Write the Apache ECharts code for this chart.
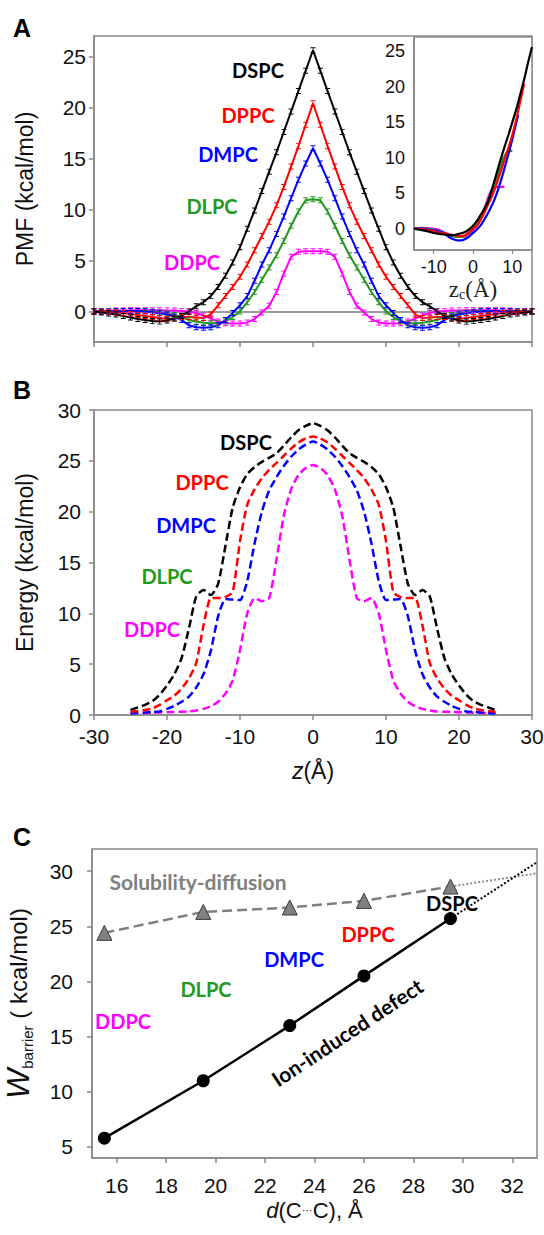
<!DOCTYPE html>
<html><head><meta charset="utf-8">
<script src="https://cdn.jsdelivr.net/npm/echarts@6/dist/echarts.min.js"></script>
<style>html,body{margin:0;padding:0;background:#fff}#c{width:544px;height:1235px}</style>
</head><body><div id="c"></div>
<script>
// ---------- DATA ----------
// Panel A: PMF (kcal/mol) vs z (Å)
const zPMF = [-30,-29,-28,-27,-26,-25,-24,-23,-22,-21,-20,-19,-18,-17,-16,-15,-14,-13,-12,-11,-10,-9,-8,-7,-6,-5,-4,-3,-2,-1,0,1,2,3,4,5,6,7,8,9,10,11,12,13,14,15,16,17,18,19,20,21,22,23,24,25,26,27,28,29,30];
const pmfDSPC = [0,-0.1,-0.2,-0.3,-0.45,-0.6,-0.75,-0.85,-0.95,-1.0,-0.9,-0.7,-0.45,0.0,0.5,0.9,1.5,2.4,3.5,4.8,6.3,8.1,9.9,11.8,13.7,15.6,17.6,19.6,21.6,23.6,25.6,23.6,21.6,19.6,17.6,15.6,13.7,11.8,9.9,8.1,6.3,4.8,3.5,2.4,1.5,0.9,0.5,0.0,-0.45,-0.7,-0.9,-1.0,-0.95,-0.85,-0.75,-0.6,-0.45,-0.3,-0.2,-0.1,0];
const pmfDPPC = [0,0,-0.05,-0.1,-0.15,-0.25,-0.35,-0.45,-0.55,-0.65,-0.75,-0.7,-0.55,-0.55,-0.6,-0.65,-0.3,0.6,1.5,2.4,3.4,4.6,6.0,7.4,8.8,10.4,12.2,14.2,16.2,18.3,20.4,18.3,16.2,14.2,12.2,10.4,8.8,7.4,6.0,4.6,3.4,2.4,1.5,0.6,-0.3,-0.65,-0.6,-0.55,-0.55,-0.7,-0.75,-0.65,-0.55,-0.45,-0.35,-0.25,-0.15,-0.1,-0.05,0,0];
const pmfDMPC = [0,0,0,0.02,0.03,0.05,0.03,0,-0.08,-0.18,-0.3,-0.5,-0.85,-1.35,-1.55,-1.6,-1.55,-1.35,-0.85,-0.15,0.6,1.5,3.0,4.6,6.0,7.6,9.3,11.1,12.9,14.5,16.0,14.5,12.9,11.1,9.3,7.6,6.0,4.6,3.0,1.5,0.6,-0.15,-0.85,-1.35,-1.55,-1.6,-1.55,-1.35,-0.85,-0.5,-0.3,-0.18,-0.08,0,0.03,0.05,0.03,0.02,0,0,0];
const pmfDLPC = [0,0,0,0.02,0.03,0.05,0.05,0.03,-0.03,-0.1,-0.2,-0.35,-0.55,-0.85,-1.0,-1.12,-1.15,-1.15,-1.0,-0.55,0.0,0.9,1.9,3.1,4.3,5.5,6.9,8.4,9.8,10.9,11.0,10.9,9.8,8.4,6.9,5.5,4.3,3.1,1.9,0.9,0.0,-0.55,-1.0,-1.15,-1.15,-1.12,-1.0,-0.85,-0.55,-0.35,-0.2,-0.1,-0.03,0.03,0.05,0.05,0.03,0.02,0,0,0];
const pmfDDPC = [0,0.02,0.05,0.08,0.1,0.12,0.12,0.12,0.12,0.12,0.1,0.08,0.05,0.0,-0.15,-0.4,-0.7,-1.0,-1.15,-1.18,-1.18,-1.08,-0.75,-0.1,0.55,1.9,3.7,5.35,5.85,5.9,5.9,5.9,5.85,5.35,3.7,1.9,0.55,-0.1,-0.75,-1.08,-1.18,-1.18,-1.15,-1.0,-0.7,-0.4,-0.15,0.0,0.05,0.08,0.1,0.12,0.12,0.12,0.12,0.12,0.1,0.08,0.05,0.02,0];

// Panel A inset: PMF vs z_c (Å), [z_c, PMF]
const insetDSPC = [[-15,0],[-14,-0.1],[-13,-0.2],[-12,-0.3],[-11,-0.45],[-10,-0.6],[-9,-0.7],[-8,-0.78],[-7,-0.85],[-6,-0.9],[-5,-0.9],[-4,-0.8],[-3,-0.65],[-2,-0.45],[-1,-0.1],[0,0.4],[1,1.1],[2,2.0],[3,2.9],[4,4.1],[5,5.9],[6,7.8],[7,9.7],[8,11.5],[9,13.2],[10,15.0],[11,16.8],[12,18.9],[13,21.0],[14,23.4],[15,25.6]];
const insetDPPC = [[-15,0],[-14,0],[-13,-0.05],[-12,-0.15],[-11,-0.25],[-10,-0.35],[-9,-0.5],[-8,-0.6],[-7,-0.7],[-6,-0.8],[-5,-0.9],[-4,-1.0],[-3,-1.05],[-2,-0.9],[-1,-0.5],[0,0.0],[1,0.4],[2,1.3],[3,2.4],[4,3.6],[5,4.8],[6,6.3],[7,8.0],[8,9.7],[9,11.4],[10,13.2],[11,15.4],[12,17.9],[13,20.4]];
const insetDMPC = [[-15,0],[-14,0.05],[-13,0.02],[-12,-0.05],[-11,-0.15],[-10,-0.25],[-9,-0.35],[-8,-0.5],[-7,-0.8],[-6,-1.2],[-5,-1.5],[-4,-1.65],[-3,-1.65],[-2,-1.45],[-1,-1.1],[0,-0.6],[1,-0.1],[2,0.5],[3,1.4],[4,2.4],[5,3.5],[6,4.9],[7,6.6],[8,8.5],[9,10.5],[10,12.6],[11,14.9],[11.5,16.0]];
const insetDLPC = [[-15,0],[-14,0.02],[-13,0.03],[-12,0],[-11,-0.05],[-10,-0.15],[-9,-0.3],[-8,-0.45],[-7,-0.7],[-6,-0.9],[-5,-1.05],[-4,-1.15],[-3,-1.15],[-2,-1.0],[-1,-0.6],[0,-0.05],[1,0.7],[2,1.7],[3,2.9],[4,4.2],[5,5.6],[6,7.1],[7,8.7],[8,10.2],[9,10.9],[10,10.95]];
const insetDDPC = [[-15,0],[-14,0.1],[-13,0.12],[-12,0.1],[-11,0.05],[-10,0],[-9,-0.1],[-8,-0.35],[-7,-0.6],[-6,-0.85],[-5,-1.05],[-4,-1.15],[-3,-1.15],[-2,-1.1],[-1,-0.8],[0,-0.2],[1,0.5],[2,1.6],[3,3.0],[4,4.6],[5,5.7],[6,5.85],[7,5.9],[8,5.9]];

// Panel B: Energy (kcal/mol) vs z (Å)
const zEnergy = [-25,-24,-23,-22,-21,-20,-19,-18,-17,-16,-15,-14,-13,-12,-11,-10,-9,-8,-7,-6,-5,-4,-3,-2,-1,0,1,2,3,4,5,6,7,8,9,10,11,12,13,14,15,16,17,18,19,20,21,22,23,24,25];
const energyDSPC = [0.5,0.75,1.0,1.35,2.0,2.9,4.0,5.6,8.5,11.65,12.3,11.8,12.9,16.6,20.4,22.4,23.7,24.4,24.9,25.3,25.75,26.5,27.3,28.0,28.45,28.7,28.45,28.0,27.3,26.5,25.75,25.3,24.9,24.4,23.7,22.4,20.4,16.6,12.9,11.8,12.3,11.65,8.5,5.6,4.0,2.9,2.0,1.35,1.0,0.75,0.5];
const energyDPPC = [0.33,0.4,0.5,0.65,1.0,1.45,1.9,2.6,3.6,5.1,8.8,11.5,11.5,11.6,12.1,17.1,20.7,22.2,23.3,24.1,24.8,25.5,26.2,26.8,27.2,27.4,27.2,26.8,26.2,25.5,24.8,24.1,23.3,22.2,20.7,17.1,12.1,11.6,11.5,11.5,8.8,5.1,3.6,2.6,1.9,1.45,1.0,0.65,0.5,0.4,0.33];
const energyDMPC = [0.16,0.2,0.25,0.3,0.35,0.6,0.9,1.3,1.8,2.7,4.0,6.3,9.7,11.4,11.35,11.3,13.2,16.9,20.0,22.1,23.4,24.5,25.4,26.1,26.6,26.9,26.6,26.1,25.4,24.5,23.4,22.1,20.0,16.9,13.2,11.3,11.35,11.4,9.7,6.3,4.0,2.7,1.8,1.3,0.9,0.6,0.35,0.3,0.25,0.2,0.16];
const energyDDPC = [0.16,0.18,0.2,0.22,0.25,0.28,0.3,0.32,0.35,0.45,0.6,0.85,1.3,2.1,3.4,6.4,10.0,11.5,11.2,11.5,15.3,19.6,22.2,23.6,24.3,24.6,24.3,23.6,22.2,19.6,15.3,11.5,11.2,11.5,10.0,6.4,3.4,2.1,1.3,0.85,0.6,0.45,0.35,0.32,0.3,0.28,0.25,0.22,0.2,0.18,0.16];

// Panel C: W_barrier vs d(C...C)
const dCC = [15.5, 19.5, 23, 26, 29.5];
const wIonDefect = [5.8, 11.0, 16.0, 20.5, 25.7];
const wSolubility = [24.4, 26.3, 26.7, 27.3, 28.6];
const dExtrap = [29.5, 33];
const wIonExtrap = [25.7, 30.8];
const wSolExtrap = [28.6, 29.8];

// tick labels
const ticksPMF = [0, 5, 10, 15, 20, 25];
const ticksInsetX = [-10, 0, 10];
const ticksCx = [16, 18, 20, 22, 24, 26, 28, 30, 32];
const ticksCy = [5, 10, 15, 20, 25, 30];
const lipidNames = ['DSPC', 'DPPC', 'DMPC', 'DLPC', 'DDPC'];

// ---------- STYLE ----------
const SANS = '"Liberation Sans", Arial, sans-serif';
const LBL = 'Lato, "Open Sans", sans-serif';
const SERIF = '"Liberation Serif", "DejaVu Serif", serif';
const FRAME = '#8a8a8a';
const TICKFS = 21;
const colMap = {DSPC:'#000000', DPPC:'#ff0000', DMPC:'#0000ff', DLPC:'#229922', DDPC:'#ff00ff'};
const ERRBAR = 'path://M0,0H10V1.6H0Z M4.2,0H5.8V10H4.2Z M0,8.4H10V10H0Z';

const zip = (xs, ys) => ys.map((v, i) => [xs[i], v]);

function axisBase(gridIndex, extra) {
  return Object.assign({
    gridIndex, type: 'value',
    axisLine: {show: true, onZero: false, lineStyle: {color: FRAME, width: 1.5}},
    axisTick: {show: true, inside: false, length: 5, lineStyle: {color: FRAME, width: 1.5}},
    axisLabel: {color: '#111', fontSize: TICKFS, fontFamily: SANS},
    splitLine: {show: false},
    nameMoveOverlap: false
  }, extra);
}

const zeroLine = {
  silent: true, symbol: ['none', 'none'], label: {show: false}, z: 1,
  lineStyle: {color: '#7a7a7a', width: 1.5, type: 'solid'},
  data: [{yAxis: 0}], animation: false
};

const pmfSets = {DSPC: pmfDSPC, DPPC: pmfDPPC, DMPC: pmfDMPC, DLPC: pmfDLPC, DDPC: pmfDDPC};
const insetSets = {DSPC: insetDSPC, DPPC: insetDPPC, DMPC: insetDMPC, DLPC: insetDLPC, DDPC: insetDDPC};
const energySets = {DSPC: energyDSPC, DPPC: energyDPPC, DMPC: energyDMPC, DDPC: energyDDPC};

const series = [];
lipidNames.slice().reverse().forEach(n => {
  const s = {
    name: 'PMF ' + n, type: 'line', xAxisIndex: 0, yAxisIndex: 0,
    data: zip(zPMF, pmfSets[n]),
    smooth: false, showAllSymbol: true,
    symbol: ERRBAR, symbolSize: [5, 6],
    lineStyle: {color: colMap[n], width: 2},
    itemStyle: {color: colMap[n]},
    z: 3
  };
  if (n === 'DSPC') s.markLine = zeroLine;
  series.push(s);
});
lipidNames.slice().reverse().forEach(n => {
  const s = {
    name: 'Inset ' + n, type: 'line', xAxisIndex: 1, yAxisIndex: 1,
    data: insetSets[n], smooth: 0.3, symbol: 'none',
    lineStyle: {color: colMap[n], width: 2.2}, z: 6
  };
  if (n === 'DSPC') s.markLine = Object.assign({}, zeroLine, {lineStyle: {color: '#7a7a7a', width: 1.2}});
  series.push(s);
});
['DDPC', 'DMPC', 'DPPC', 'DSPC'].forEach(n => {
  series.push({
    name: 'Energy ' + n, type: 'line', xAxisIndex: 2, yAxisIndex: 2,
    data: zip(zEnergy, energySets[n]), smooth: 0.2, symbol: 'none',
    lineStyle: {color: colMap[n], width: 2.5, type: [8, 4]}
  });
});
series.push({
  name: 'Solubility-diffusion extrapolation', type: 'line', xAxisIndex: 3, yAxisIndex: 3,
  data: zip(dExtrap, wSolExtrap), symbol: 'none',
  lineStyle: {color: '#8c8c8c', width: 2, type: 'dotted'}
});
series.push({
  name: 'Ion-induced defect extrapolation', type: 'line', xAxisIndex: 3, yAxisIndex: 3,
  data: zip(dExtrap, wIonExtrap), symbol: 'none',
  lineStyle: {color: '#000', width: 2, type: 'dotted'}
});
series.push({
  name: 'Solubility-diffusion', type: 'line', xAxisIndex: 3, yAxisIndex: 3,
  data: zip(dCC, wSolubility), symbol: 'triangle', symbolSize: 15,
  lineStyle: {color: '#7f7f7f', width: 2.5, type: [10, 5]},
  itemStyle: {color: '#808080', borderColor: '#3a3a3a', borderWidth: 1}
});
series.push({
  name: 'Ion-induced defect', type: 'line', xAxisIndex: 3, yAxisIndex: 3,
  data: zip(dCC, wIonDefect), symbol: 'circle', symbolSize: 13,
  lineStyle: {color: '#000', width: 2.5},
  itemStyle: {color: '#000'}
});

function label(text, x, y, color, size, rot) {
  return {
    type: 'text', x, y, rotation: rot || 0, z: 100,
    style: {
      text, fill: color, font: 'bold ' + size + 'px ' + LBL,
      textAlign: 'center', textVerticalAlign: 'middle', align: 'center', verticalAlign: 'middle'
    }
  };
}
function letter(text, x, y) {
  return {
    type: 'text', x, y, z: 100,
    style: {
      text, fill: '#000', font: 'bold 25px ' + SANS,
      textAlign: 'center', textVerticalAlign: 'middle', align: 'center', verticalAlign: 'middle'
    }
  };
}

const graphic = [
  letter('A', 22, 28), letter('B', 22, 390), letter('C', 22, 837),
  label('DSPC', 258, 70, colMap.DSPC, 20),
  label('DPPC', 248, 115, colMap.DPPC, 20),
  label('DMPC', 228, 154, colMap.DMPC, 20),
  label('DLPC', 212, 206, colMap.DLPC, 20),
  label('DDPC', 192, 262, colMap.DDPC, 20),
  label('DSPC', 246, 442, colMap.DSPC, 20),
  label('DPPC', 202, 482, colMap.DPPC, 20),
  label('DMPC', 186, 525, colMap.DMPC, 20),
  label('DLPC', 167, 576, colMap.DLPC, 20),
  label('DDPC', 152, 629, colMap.DDPC, 20),
  label('Solubility-diffusion', 198, 881, '#808080', 21),
  label('DSPC', 452, 903, colMap.DSPC, 20),
  label('DPPC', 368, 934, colMap.DPPC, 20),
  label('DMPC', 294, 959, colMap.DMPC, 20),
  label('DLPC', 206, 989, colMap.DLPC, 20),
  label('DDPC', 123, 1021, colMap.DDPC, 20),
  label('Ion-induced defect', 347, 1032, '#000', 21, 33.5 * Math.PI / 180)
];

const option = {
  animation: false,
  backgroundColor: '#fff',
  textStyle: {fontFamily: SANS},
  grid: [
    {left: 94, top: 36, width: 438, height: 306, show: true, borderColor: FRAME, borderWidth: 1.5, backgroundColor: 'transparent', outerBoundsMode: 'none'},
    {left: 414, top: 37, width: 118, height: 213, show: true, borderColor: FRAME, borderWidth: 1.5, backgroundColor: '#fff', z: 5, outerBoundsMode: 'none'},
    {left: 94, top: 410, width: 438, height: 305, show: true, borderColor: FRAME, borderWidth: 1.5, backgroundColor: 'transparent', outerBoundsMode: 'none'},
    {left: 92, top: 849, width: 445, height: 309, show: true, borderColor: FRAME, borderWidth: 1.5, backgroundColor: 'transparent', outerBoundsMode: 'none'}
  ],
  xAxis: [
    axisBase(0, {min: -30, max: 30, interval: 10, axisLabel: {show: false}}),
    axisBase(1, {min: -15, max: 15, z: 6,
      axisTick: {show: true, length: 4, customValues: ticksInsetX, lineStyle: {color: FRAME, width: 1.2}},
      axisLabel: {customValues: ticksInsetX, fontSize: 18, margin: 8, color: '#111', fontFamily: SANS},
      name: 'z{s|c}(Å)', nameLocation: 'middle', nameGap: 28,
      nameTextStyle: {fontFamily: SERIF, fontSize: 23, color: '#222',
        rich: {s: {fontFamily: SERIF, fontSize: 14, verticalAlign: 'bottom', lineHeight: 12, color: '#222'}}}}),
    axisBase(2, {min: -30, max: 30, interval: 10,
      axisLabel: {fontSize: TICKFS, margin: 11, color: '#111', fontFamily: SANS},
      name: '{i|z}(Å)', nameLocation: 'middle', nameGap: 44,
      nameTextStyle: {fontSize: 23, color: '#111', fontFamily: SANS,
        rich: {i: {fontStyle: 'italic', fontSize: 23, fontFamily: SANS, color: '#111'}}}}),
    axisBase(3, {min: 15, max: 33,
      axisTick: {show: true, length: 5, customValues: ticksCx, lineStyle: {color: FRAME, width: 1.5}},
      axisLabel: {customValues: ticksCx, fontSize: TICKFS, margin: 17, color: '#111', fontFamily: SANS},
      name: '{i|d}(C{d|···}C), Å', nameLocation: 'middle', nameGap: 41,
      nameTextStyle: {fontSize: 22, color: '#111', fontFamily: SANS,
        rich: {i: {fontStyle: 'italic', fontSize: 22, fontFamily: SANS, color: '#111'},
               d: {fontSize: 11, fontFamily: SANS, color: '#111', verticalAlign: 'middle'}}}})
  ],
  yAxis: [
    axisBase(0, {min: -3, max: 27,
      axisTick: {show: true, length: 5, customValues: ticksPMF, lineStyle: {color: FRAME, width: 1.5}},
      axisLabel: {customValues: ticksPMF, fontSize: TICKFS, margin: 8, color: '#111', fontFamily: SANS},
      name: 'PMF (kcal/mol)', nameLocation: 'middle', nameRotate: 90, nameGap: 58,
      nameTextStyle: {fontSize: 23, color: '#111', fontFamily: SANS}}),
    axisBase(1, {min: -3, max: 27, z: 6,
      axisTick: {show: false, customValues: ticksPMF},
      axisLabel: {customValues: ticksPMF, fontSize: 18, margin: 9, color: '#111', fontFamily: SANS}}),
    axisBase(2, {min: 0, max: 30, interval: 5,
      axisLabel: {fontSize: TICKFS, margin: 13, color: '#111', fontFamily: SANS},
      name: 'Energy (kcal/mol)', nameLocation: 'middle', nameRotate: 90, nameGap: 58,
      nameTextStyle: {fontSize: 23, color: '#111', fontFamily: SANS}}),
    axisBase(3, {min: 4, max: 32,
      axisTick: {show: true, length: 5, customValues: ticksCy, lineStyle: {color: FRAME, width: 1.5}},
      axisLabel: {customValues: ticksCy, fontSize: TICKFS, margin: 19, color: '#111', fontFamily: SANS},
      name: '{w|W}{s|barrier}{n| ( kcal/mol)}', nameLocation: 'middle', nameRotate: 90, nameGap: 57,
      nameTextStyle: {fontSize: 24, color: '#111', fontFamily: SANS,
        rich: {w: {fontSize: 32, fontStyle: 'italic', fontFamily: SANS, color: '#111', lineHeight: 34},
               s: {fontSize: 15, fontFamily: SANS, color: '#111', verticalAlign: 'bottom', lineHeight: 13},
               n: {fontSize: 24, fontFamily: SANS, color: '#111', lineHeight: 34}}}})
  ],
  series,
  graphic
};

const chart = echarts.init(document.getElementById('c'), null, {renderer: 'svg', width: 544, height: 1235});
chart.setOption(option);
</script>
</body></html>
